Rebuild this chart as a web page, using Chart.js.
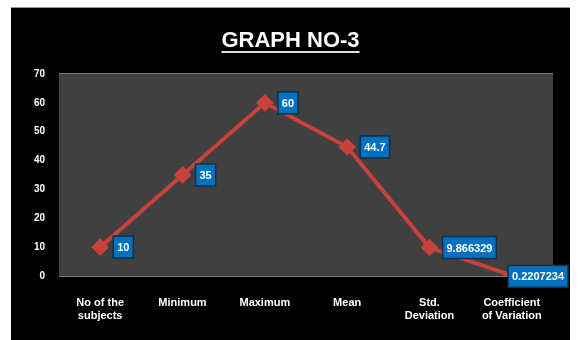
<!DOCTYPE html>
<html>
<head>
<meta charset="utf-8">
<script src="https://cdn.jsdelivr.net/npm/chart.js@4"></script>
<style>
  html, body { margin: 0; padding: 0; background: #fff; }
  #wrap {
    position: absolute; left: 11px; top: 7px;
    width: 559px; height: 333px; background: #000;
    border-top: 1px solid #999;
  }
</style>
</head>
<body>
<div id="wrap"><canvas id="chart" width="559" height="333"></canvas></div>
<script>
'use strict';

const categories = [
  ['No of the', 'subjects'],
  'Minimum',
  'Maximum',
  'Mean',
  ['Std.', 'Deviation'],
  ['Coefficient', 'of Variation']
];
const values = [10, 35, 60, 44.7, 9.866329, 0.2207234];
const valueLabels = ['10', '35', '60', '44.7', '9.866329', '0.2207234'];
const titleText = 'GRAPH NO-3';

const FONT = '"Liberation Sans", "DejaVu Sans", sans-serif';

// plot area background + title with underline
const decor = {
  id: 'decor',
  beforeDatasetsDraw(chart) {
    const a = chart.chartArea;
    const ctx = chart.ctx;
    ctx.save();
    ctx.fillStyle = '#404040';
    ctx.fillRect(a.left, a.top, a.right - a.left, a.bottom - a.top);
    ctx.restore();
  },
  beforeDraw(chart) {
    const ctx = chart.ctx;
    ctx.save();
    ctx.font = 'bold 22px ' + FONT;
    ctx.fillStyle = '#fff';
    ctx.textAlign = 'center';
    ctx.textBaseline = 'alphabetic';
    const cx = chart.width / 2;
    ctx.fillText(titleText, cx, 39);
    const w = ctx.measureText(titleText).width;
    ctx.fillStyle = '#ddd';
    ctx.fillRect(cx - w / 2, 43, w, 2);
    ctx.restore();
  }
};

// blue boxed value labels to the right of each point
const boxLabels = {
  id: 'boxLabels',
  afterDatasetsDraw(chart) {
    const ctx = chart.ctx;
    const meta = chart.getDatasetMeta(0);
    ctx.save();
    ctx.font = 'bold 11px ' + FONT;
    ctx.textBaseline = 'middle';
    ctx.textAlign = 'left';
    meta.data.forEach(function (pt, i) {
      const txt = valueLabels[i];
      const w = ctx.measureText(txt).width + 8;
      const h = 22;
      let x = pt.x + 13;
      if (x + w > chart.width - 2) x = chart.width - 2 - w;
      let y = pt.y - h / 2;
      if (i === values.length - 1) y = pt.y - h / 2 + 1;
      ctx.fillStyle = '#0070C0';
      ctx.fillRect(x, y, w, h);
      ctx.strokeStyle = '#10304c';
      ctx.lineWidth = 1.5;
      ctx.strokeRect(x, y, w, h);
      ctx.fillStyle = '#fff';
      ctx.fillText(txt, x + 4, y + h / 2 + 1);
    });
    ctx.restore();
  }
};

const ctx = document.getElementById('chart').getContext('2d');
new Chart(ctx, {
  type: 'line',
  data: {
    labels: categories,
    datasets: [{
      data: values,
      borderColor: '#C8413C',
      backgroundColor: '#C8413C',
      borderWidth: 4,
      pointStyle: 'rectRot',
      pointRadius: 6,
      pointHoverRadius: 6,
      tension: 0,
      fill: false
    }]
  },
  options: {
    responsive: false,
    animation: false,
    layout: { padding: { top: 66, right: 17, left: 0, bottom: 0 } },
    plugins: {
      legend: { display: false },
      tooltip: { enabled: false },
      title: { display: false }
    },
    scales: {
      x: {
        offset: true,
        grid: { display: false, drawTicks: false },
        border: { display: false },
        ticks: {
          color: '#fff',
          padding: 20,
          maxRotation: 0,
          autoSkip: false,
          font: { family: FONT, size: 11, weight: 'bold' }
        },
        afterFit(scale) { scale.height = 65; }
      },
      y: {
        min: 0,
        max: 70,
        grid: { color: '#767676', lineWidth: 2, drawTicks: false },
        border: { display: false },
        ticks: {
          stepSize: 10,
          color: '#fff',
          padding: 14,
          font: { family: FONT, size: 10, weight: 'bold' }
        },
        afterFit(scale) { scale.width = 48; }
      }
    }
  },
  plugins: [decor, boxLabels]
});
</script>
</body>
</html>
